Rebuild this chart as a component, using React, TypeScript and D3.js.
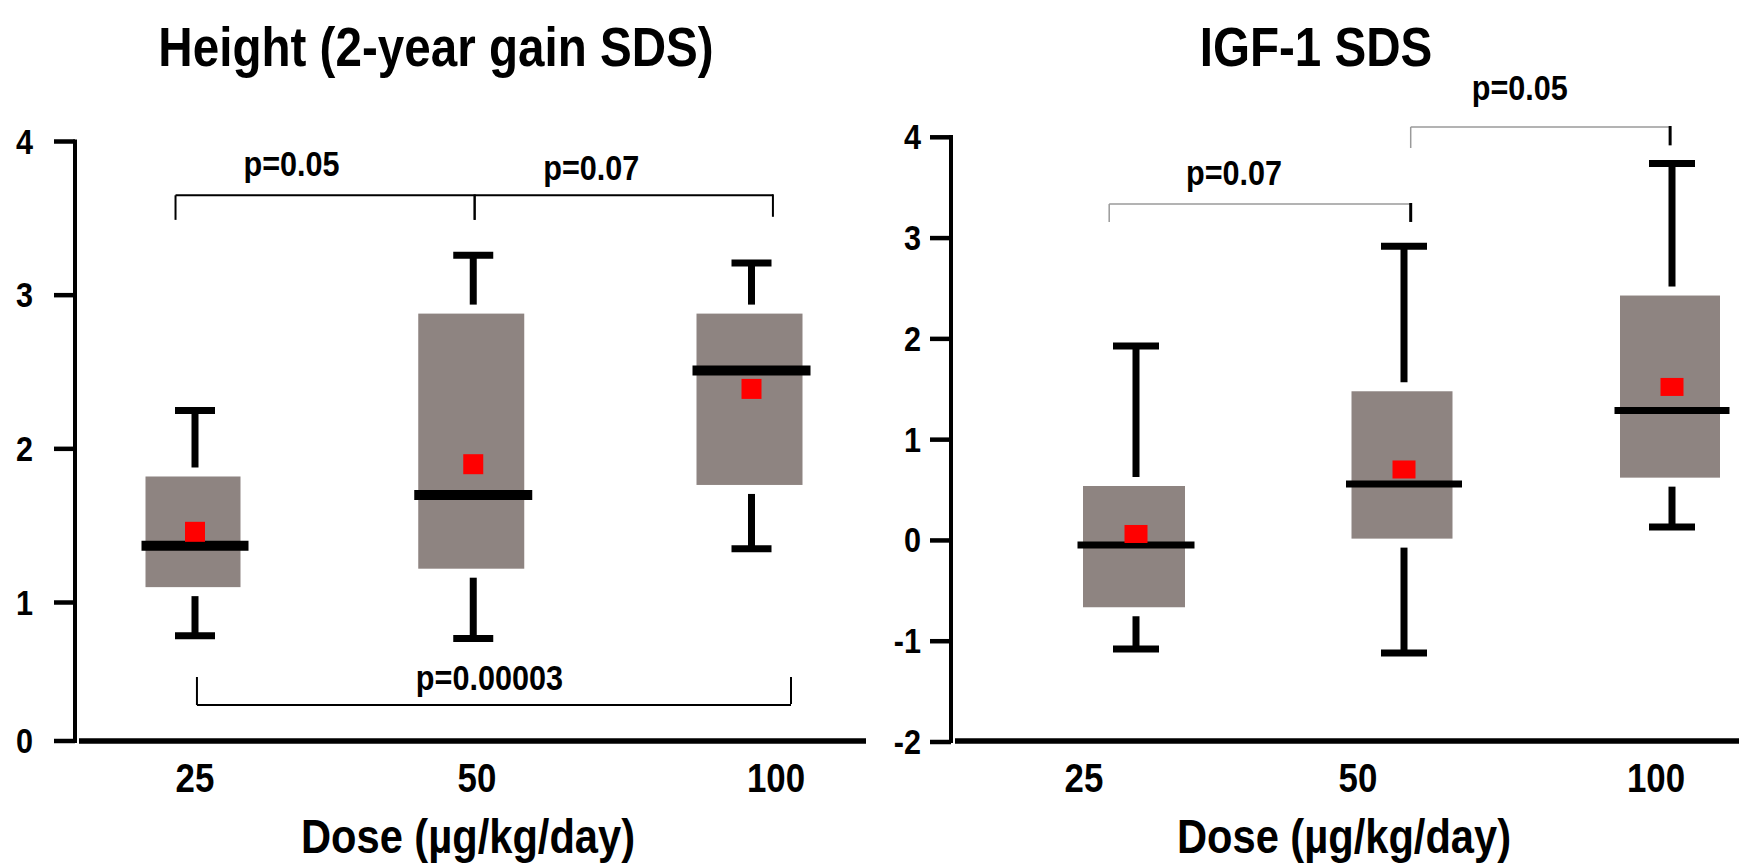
import React from "react";
import * as d3 from "d3";

// ---------- DATA ----------
const doses = ["25", "50", "100"];

// Height (2-year gain SDS)
const hWhiskerHigh = [2.25, 3.26, 3.21];
const hQ3 = [1.82, 2.88, 2.88];
const hMedian = [1.37, 1.7, 2.51];
const hMean = [1.46, 1.9, 2.39];
const hQ1 = [1.1, 1.22, 1.765];
const hWhiskerLow = [0.76, 0.74, 1.35];
const hTicks = [0, 1, 2, 3, 4];

// IGF-1 SDS
const iWhiskerHigh = [1.93, 2.92, 3.74];
const iQ3 = [0.54, 1.48, 2.43];
const iMedian = [-0.045, 0.56, 1.29];
const iMean = [0.064, 0.704, 1.523];
const iQ1 = [-0.663, 0.018, 0.623];
const iWhiskerLow = [-1.076, -1.116, 0.134];
const iTicks = [-2, -1, 0, 1, 2, 3, 4];

// significance brackets (x in group-index units, y in data units)
const hBrackets = [
  { x1: -0.07, x2: 1.005, y: 3.65, y1: 3.49, y2: 3.49, label: "p=0.05", lx: 0.347, ly: 3.776 },
  { x1: 1.005, x2: 2.077, y: 3.65, y1: 3.49, y2: 3.51, label: "p=0.07", lx: 1.424, ly: 3.75 },
  { x1: 0.007, x2: 2.142, y: 0.26, y1: 0.462, y2: 0.462, label: "p=0.00003", lx: 1.058, ly: 0.368 },
];
const iBrackets = [
  { x1: -0.1, x2: 1.025, y: 3.338, y1: 3.16, y2: 3.16, label: "p=0.07", lx: 0.366, ly: 3.527 },
  { x1: 1.025, x2: 1.993, y: 4.102, y1: 3.894, y2: 3.92, label: "p=0.05", lx: 1.432, ly: 4.37 },
];

// ---------- STYLE ----------
const FONT = "'Liberation Sans', Arial, Helvetica, sans-serif";
const BOX_FILL = "#8e8481";
const GAP = 9;
const NARROW = 0.85;

function T({
  x,
  y,
  size,
  anchor = "middle",
  children,
}: {
  x: number;
  y: number;
  size: number;
  anchor?: string;
  children: React.ReactNode;
}) {
  return (
    <text
      transform={`translate(${x},${y}) scale(${NARROW},1)`}
      textAnchor={anchor}
      fontFamily={FONT}
      fontWeight="bold"
      fontSize={size}
      fill="#000"
    >
      {children}
    </text>
  );
}

type Panel = {
  title: string;
  titleX: number;
  axisX: number;
  yTop: number;
  yBottom: number;
  xAxisEnd: number;
  yScale: d3.ScaleLinear<number, number>;
  xScale: d3.ScaleLinear<number, number>;
  labelOffsets: number[];
  boxWidths: number[];
  medianExtra: number;
  medianThick: number;
  capWidth: number;
  meanW: number;
  meanH: number;
  ticks: number[];
  hi: number[];
  q3: number[];
  med: number[];
  mean: number[];
  q1: number[];
  lo: number[];
  brackets: typeof hBrackets;
  bracketColor: string;
  bracketWidth: number;
  rightTickColor: string;
  rightTickWidth: number;
  tickLabelX: number;
};

const panels: Panel[] = [
  {
    title: "Height (2-year gain SDS)",
    titleX: 436,
    axisX: 75,
    yTop: 141.5,
    yBottom: 741,
    xAxisEnd: 866,
    yScale: d3.scaleLinear().domain([0, 1, 4]).range([741, 602.5, 141.5]),
    xScale: d3.scaleLinear().domain([0, 2]).range([195, 751.5]),
    labelOffsets: [120, 402, 701],
    boxWidths: [95, 106, 106],
    medianExtra: 12,
    medianThick: 10,
    capWidth: 40,
    meanW: 20,
    meanH: 20,
    ticks: hTicks,
    hi: hWhiskerHigh,
    q3: hQ3,
    med: hMedian,
    mean: hMean,
    q1: hQ1,
    lo: hWhiskerLow,
    brackets: hBrackets,
    bracketColor: "#000",
    bracketWidth: 2,
    rightTickColor: "#000",
    rightTickWidth: 2,
    tickLabelX: 33,
  },
  {
    title: "IGF-1 SDS",
    titleX: 1316,
    axisX: 951,
    yTop: 137,
    yBottom: 741,
    xAxisEnd: 1739,
    yScale: d3.scaleLinear().domain([-2, 4]).range([742, 137.3]),
    xScale: d3.scaleLinear().domain([0, 2]).range([1136, 1672]),
    labelOffsets: [133, 407, 705],
    boxWidths: [102, 101, 100],
    medianExtra: 15,
    medianThick: 7,
    capWidth: 46,
    meanW: 23,
    meanH: 18,
    ticks: iTicks,
    hi: iWhiskerHigh,
    q3: iQ3,
    med: iMedian,
    mean: iMean,
    q1: iQ1,
    lo: iWhiskerLow,
    brackets: iBrackets,
    bracketColor: "#9a9a9a",
    bracketWidth: 1.5,
    rightTickColor: "#000",
    rightTickWidth: 3,
    tickLabelX: 921,
  },
];

function PanelView({ p }: { p: Panel }) {
  const y = p.yScale;
  const x = p.xScale;
  const labelX = d3
    .scaleOrdinal<string, number>()
    .domain(doses)
    .range(p.labelOffsets.map((o) => p.axisX + o));
  return (
    <g>
      <T x={p.titleX} y={66} size={56}>
        {p.title}
      </T>
      {/* y axis */}
      <line x1={p.axisX} x2={p.axisX} y1={p.yTop - 2} y2={p.yBottom + 2} stroke="#000" strokeWidth={4} />
      {p.ticks.map((t) => (
        <g key={t}>
          <line x1={p.axisX - 21} x2={p.axisX} y1={y(t)} y2={y(t)} stroke="#000" strokeWidth={4.5} />
          <T x={p.tickLabelX} y={y(t) + 12} size={36} anchor="end">
            {t}
          </T>
        </g>
      ))}
      {/* x axis */}
      <line x1={p.axisX + 4} x2={p.xAxisEnd} y1={p.yBottom} y2={p.yBottom} stroke="#000" strokeWidth={5.5} />
      {doses.map((d) => (
        <T key={d} x={labelX(d)} y={792} size={41}>
          {d}
        </T>
      ))}
      <T x={p.axisX + 393} y={853} size={49}>
        Dose (µg/kg/day)
      </T>
      {/* boxes */}
      {doses.map((d, i) => {
        const cx = x(i);
        const w = p.boxWidths[i];
        const top = y(p.q3[i]);
        const bot = y(p.q1[i]);
        return (
          <g key={d}>
            <line x1={cx} x2={cx} y1={y(p.hi[i])} y2={top - GAP} stroke="#000" strokeWidth={7} />
            <line
              x1={cx - p.capWidth / 2}
              x2={cx + p.capWidth / 2}
              y1={y(p.hi[i])}
              y2={y(p.hi[i])}
              stroke="#000"
              strokeWidth={7}
            />
            <line x1={cx} x2={cx} y1={bot + GAP} y2={y(p.lo[i])} stroke="#000" strokeWidth={7} />
            <line
              x1={cx - p.capWidth / 2}
              x2={cx + p.capWidth / 2}
              y1={y(p.lo[i])}
              y2={y(p.lo[i])}
              stroke="#000"
              strokeWidth={7}
            />
            <rect x={cx - w / 2 - 2} y={top} width={w} height={bot - top} fill={BOX_FILL} />
            <line
              x1={cx - (w + p.medianExtra) / 2}
              x2={cx + (w + p.medianExtra) / 2}
              y1={y(p.med[i])}
              y2={y(p.med[i])}
              stroke="#000"
              strokeWidth={p.medianThick}
            />
            <rect
              x={cx - p.meanW / 2}
              y={y(p.mean[i]) - p.meanH / 2}
              width={p.meanW}
              height={p.meanH}
              fill="#ff0000"
            />
          </g>
        );
      })}
      {/* brackets */}
      {p.brackets.map((b, k) => (
        <g key={k}>
          <line x1={x(b.x1)} x2={x(b.x2)} y1={y(b.y)} y2={y(b.y)} stroke={p.bracketColor} strokeWidth={p.bracketWidth} />
          <line x1={x(b.x1)} x2={x(b.x1)} y1={y(b.y)} y2={y(b.y1)} stroke={p.bracketColor} strokeWidth={p.bracketWidth} />
          <line
            x1={x(b.x2)}
            x2={x(b.x2)}
            y1={y(b.y) - 1}
            y2={y(b.y2)}
            stroke={p.rightTickColor}
            strokeWidth={p.rightTickWidth}
          />
          <T x={x(b.lx)} y={y(b.ly)} size={36}>
            {b.label}
          </T>
        </g>
      ))}
    </g>
  );
}

export default function App() {
  return (
    <svg
      width={1739}
      height={867}
      viewBox="0 0 1739 867"
      style={{ position: "absolute", left: 0, top: 0, background: "#fff" }}
    >
      <rect width={1739} height={867} fill="#fff" />
      {panels.map((p) => (
        <PanelView key={p.title} p={p} />
      ))}
    </svg>
  );
}
